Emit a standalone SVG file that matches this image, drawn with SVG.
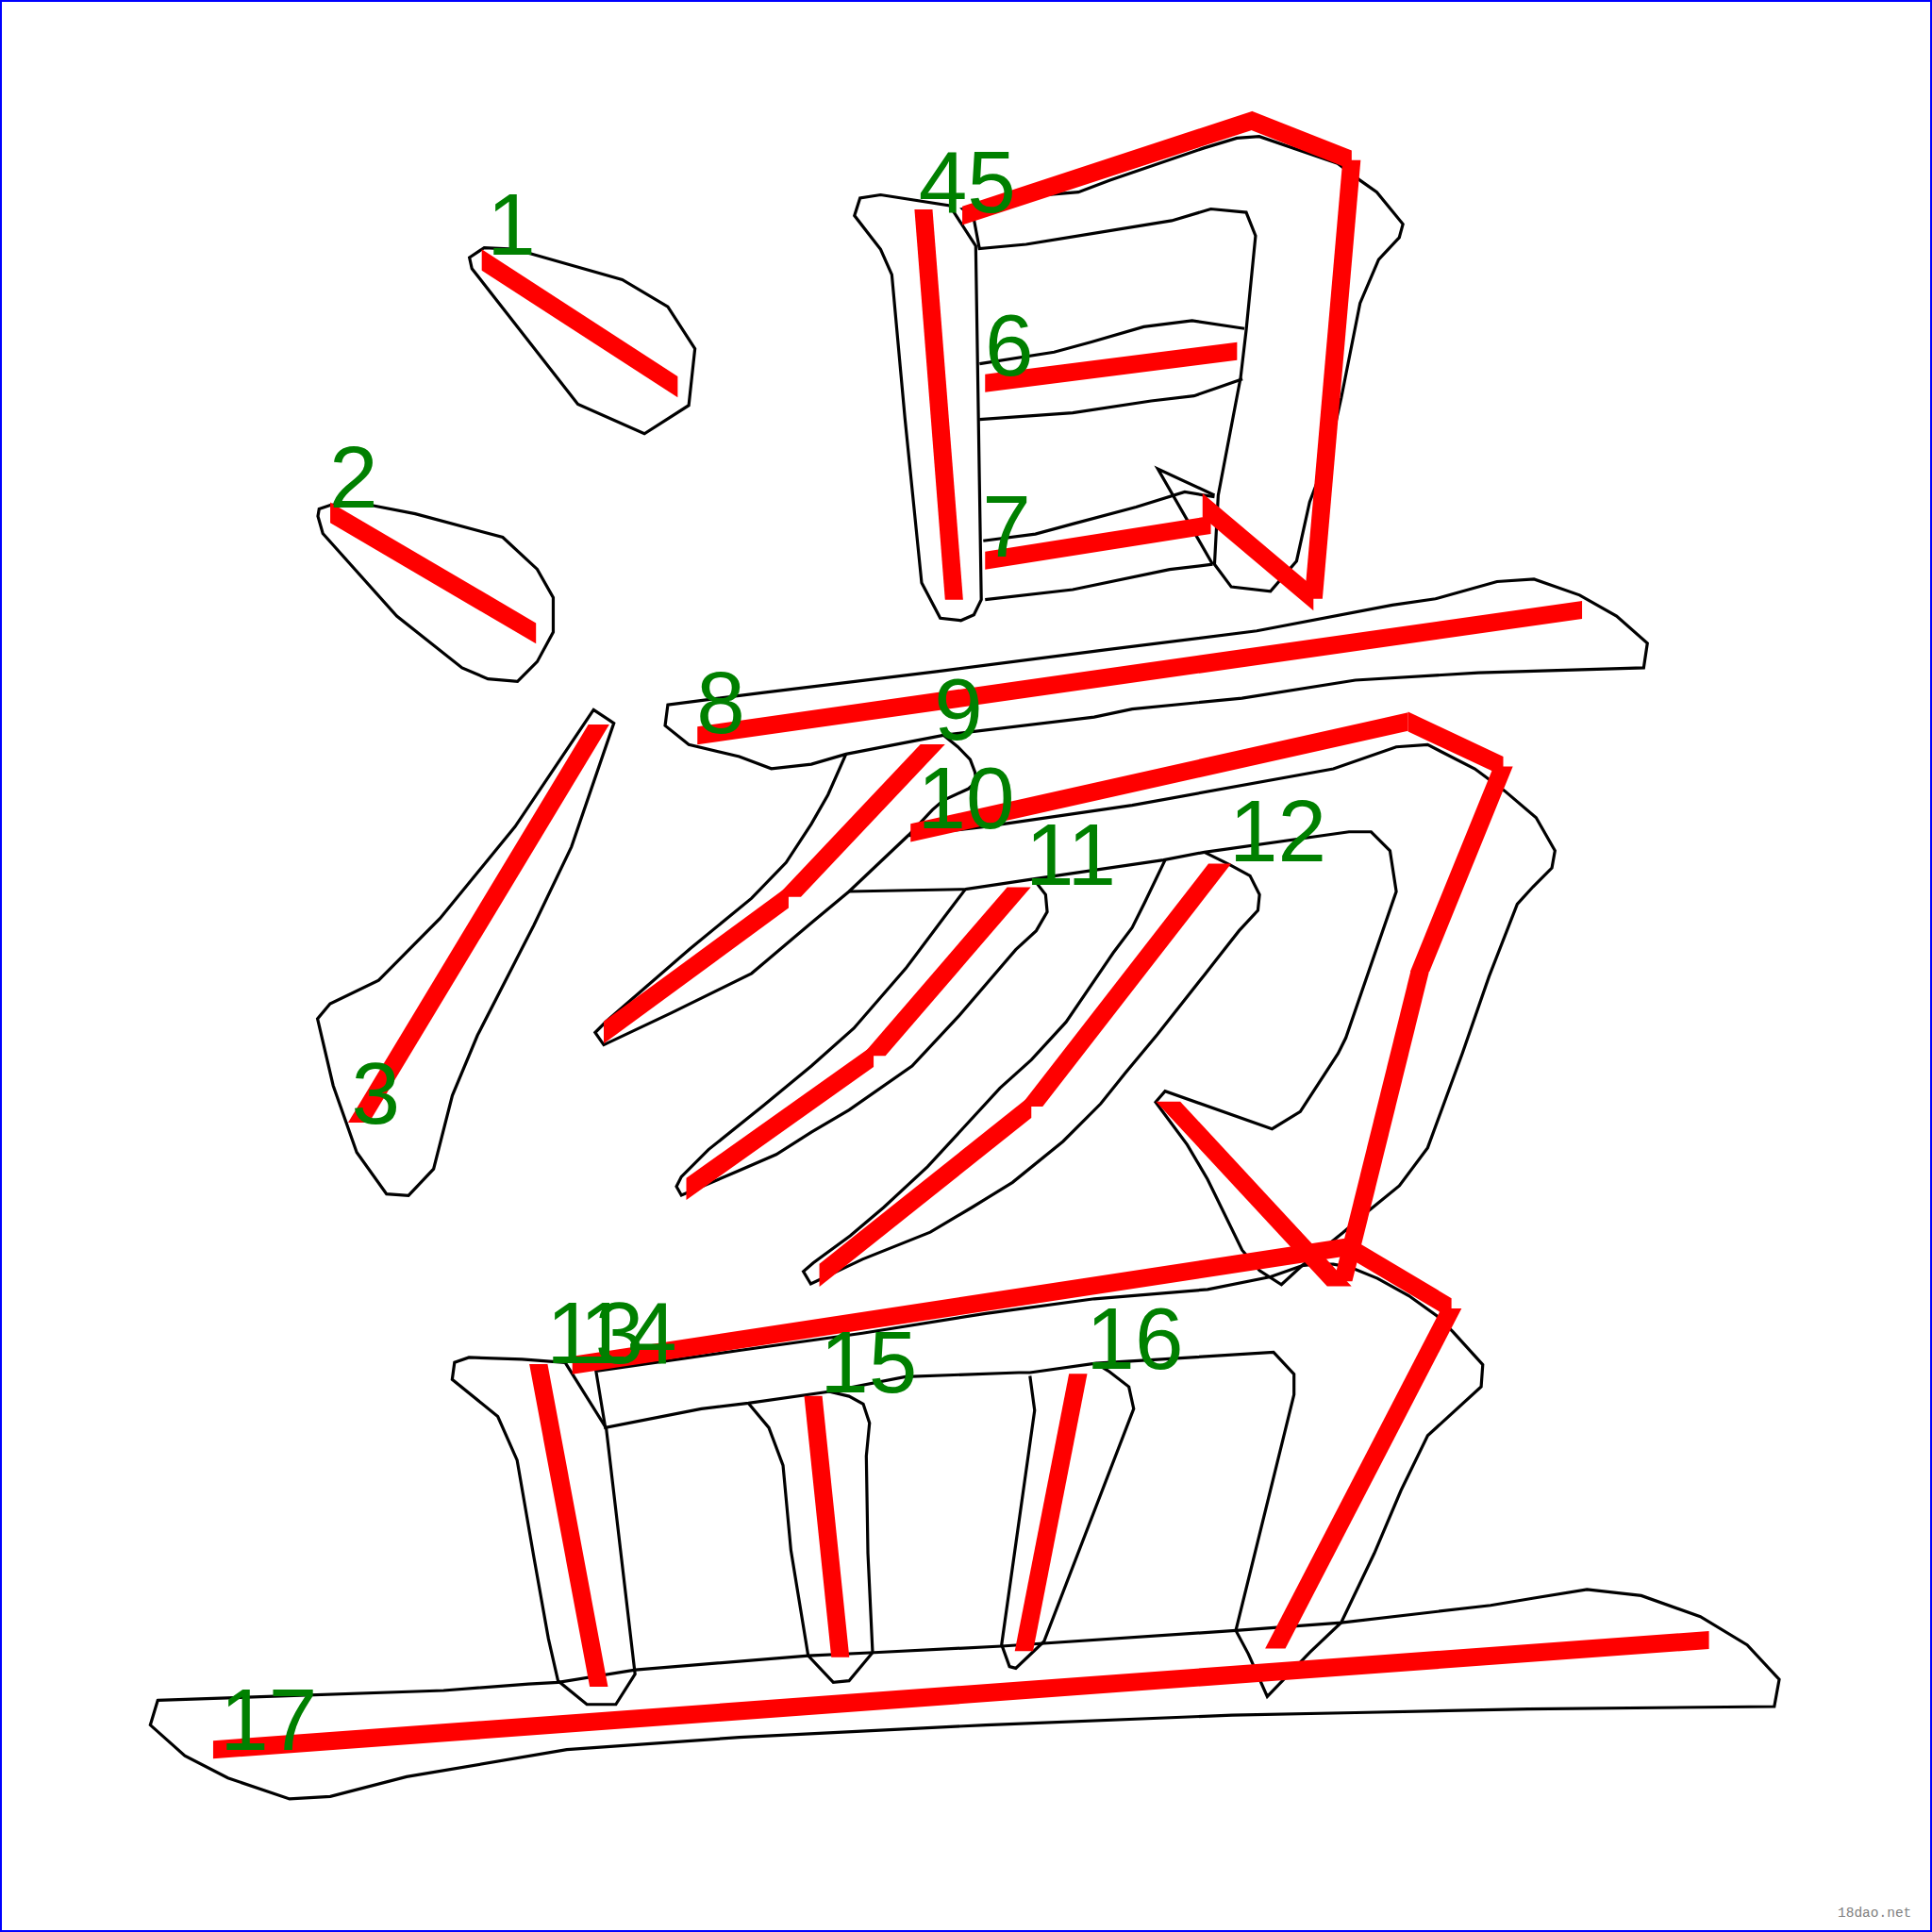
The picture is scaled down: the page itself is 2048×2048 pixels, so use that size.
<svg xmlns="http://www.w3.org/2000/svg" width="2048" height="2048" viewBox="0 0 2048 2048">
<style>
.o{fill:none;stroke:#000;stroke-width:2.45;stroke-linejoin:miter;stroke-linecap:butt}
.r{fill:#ff0000;stroke:none}
.n{fill:#008000;font-family:"Liberation Sans",Arial,sans-serif;font-size:71px;text-anchor:middle}
</style>
<rect x="1" y="1" width="2046" height="2046" fill="#ffffff" stroke="#0000ff" stroke-width="2"/>
<g transform="scale(1.306122)">
<g id="outlines">
<g id="s1-outline"><path class="o" d="M381,209 L393,201 L413,202 L431,206 L505,227 L542,249 L564,283 L559,329 L523,352 L469,328 L383,218 Z"/></g>
<g id="s2-outline"><path class="o" d="M259,413 L268,410 L283,408 L301,410 L337,417 L408,436 L436,462 L449,485 L449,513 L436,537 L420,553 L396,551 L375,542 L322,500 L262,433 L258,419 Z"/></g>
<g id="s3-outline"><path class="o" d="M481.7,576.1 L498.2,586.9 L463.8,687.2 L433.3,750.9 L418,780.7 L387.5,840.3 L367.1,889.1 L351.9,948.7 L331.5,970.4 L313.7,969 L289.5,935.2 L270.4,881 L257.7,826.8 L267.9,814.6 L307.3,795.6 L357,745.5 L418,670.9 Z"/></g>
<g id="s4-outline"><path class="o" d="M693.5,175 L698,160.8 L714.7,158.1 L770.7,166.8 L791.9,199.6 L796.4,486.7 L790.4,499 L779.8,503.6 L763.1,501.7 L748,473 L734.4,339 L723.8,222.9 L714.7,202.4 Z"/></g>
<g id="s5-outline"><path class="o" d="M781.3,169.6 L807,164.1 L843.4,158.6 L875.2,155.9 L900.9,146.3 L976.6,120.3 L1003.8,112.1 L1022,110.8 L1085.6,132.6 L1103.8,146.3 L1117.4,155.9 L1138.6,181.9 L1135.6,192.8 L1118.9,210.6 L1103.8,246.1 L1088.6,322.7 L1079.5,363.7 L1062.9,407.4 L1052.3,455.3 L1031.1,479.9 L999.3,476.3 L985.7,458 L988.7,401.9 L1006.9,306.3 L1011.4,268 L1019,191.4 L1011.4,172.3 L982.7,169.6 L950.9,179.1 L832.8,198.3 L794.9,201.8 L790.4,177.8 Z M985.7,401.9 L939.7,380.6 L984.2,458"/></g>
<g id="s6-outline"><path class="o" d="M795,295.3 L855.5,285.8 L885.8,277.6 L928.2,265.2 L967.5,260.3 L1009.9,266.6 M795,340.4 L870.6,335 L934.2,325.4 L969,321.3 L988.7,314.5 L1008.4,307.6"/></g>
<g id="s7-outline"><path class="o" d="M798,438.9 L840.3,433.4 L870.6,425.2 L922,411.5 L961.5,399.2 L985.7,403.3 M799.5,486.7 L870.6,478.5 L949.3,462.1 L984.2,458"/></g>
<g id="s8-outline"><path class="o" d="M542,572 L620,562 L760,545 L900,527 L1020,512 L1130,491 L1165,486 L1215,472 L1245,470 L1282,483 L1312,500 L1337,522 L1334,542 L1200,546 L1100,552 L1008,566.6 L918.8,575.5 L888,582 L765.7,596.7 L686.6,612 L658.5,620.2 L626,623.8 L600,614 L559,604.3 L539.8,588.9 Z"/></g>
<g id="s9-outline"><path class="o" d="M686.6,612 L672,645 L658.5,668.7 L638,700 L610,729 L560,770 L492,829 L483,838 L490,848 L545,822 L610,790 L658.5,749 L689.1,723.5 L737.6,677.6 L756.8,657.2 L765.7,649.5 L786.1,640.1 L792.5,634.2 L791.2,626.5 L787.4,616.4 L777.4,606.1 L765.7,596.7"/></g>
<g id="s10-outline"><path class="o" d="M738,678 L799,671 L918.8,653.5 L1082.1,624 L1133.2,606.2 L1158.7,604.4 L1197,624 L1221.2,641.9 L1246.7,663.6 L1262,690.4 L1259.5,704.4 L1244.2,719.7 L1231.4,733.8 L1208.5,792.5 L1186.8,855 L1158.7,931.5 L1135.7,962.3 L1107.7,985.2 L1089.8,1000.5 L1056.6,1027.3 L1040,1042.6 L1022.2,1031.2 L1008.1,1014.6 L980,957 L963.5,929 L937.9,894.5 L945.6,885.6 L1032.4,916.2 L1055.3,902.2 L1086,855 L1092.3,842.2 L1133.2,723.5 L1128.1,690.4 L1112.8,675.1 L1094.9,675.1 L977.5,691.6 L944.3,698 L839.7,713.3 L783.5,721.7 L689.1,723.5"/></g>
<g id="s11-outline"><path class="o" d="M783.5,721.7 L765.7,745.2 L735.1,786 L693,834.5 L658.5,865.2 L620,897 L575,933 L553,955 L549,963 L553,970 L600,950 L630,937 L658.5,918.8 L689.1,900.9 L740.2,865.2 L778.4,824.3 L824.4,770.7 L841,755.4 L849.9,740.1 L848.6,726.1 L839.7,714.6"/></g>
<g id="s12-outline"><path class="o" d="M945.6,698 L929,732.5 L918.8,752.9 L903.5,773.3 L865.2,829.5 L837.1,860.1 L811.6,883.1 L783.5,913.6 L752.9,946.8 L717.1,980 L690,1003 L660,1025 L652,1032 L658,1042 L700,1022 L755,1000 L788.7,980 L821.8,959.6 L862.7,926.4 L893.3,895.8 L913.7,870.3 L939.2,839.7 L977.5,791.2 L1005.6,755.4 L1020.9,738.9 L1022.2,726.1 L1014.5,710.8 L998,701.8 L977.5,691.6"/></g>
<g id="s13-outline"><path class="o" d="M458.7,1105.8 L423.6,1103.1 L380.6,1101.7 L368.9,1105.8 L367,1119.5 L404,1149.6 L419.7,1185.1 L433.4,1264.4 L445.1,1330 L452.9,1364.2 L476.3,1383.3 L499.8,1383.3 L515.4,1358.7 L492,1159.1 Z"/></g>
<g id="s14-outline"><path class="o" d="M483.7,1112.7 L491.3,1158.7 L569.2,1143.4 L607.4,1138.8 L673.8,1129.3 L735,1117.3 L826.9,1114 L835.9,1114 L889.4,1106.4 L1033.6,1097.5 L1050.2,1115.3 L1050.2,1131.9 L1003,1323.3 L1013.2,1342.4 L1028.5,1376.9 L1063,1341.1 L1088.5,1316.9 L1115.3,1260.8 L1137,1209.7 L1158.7,1165.1 L1202.1,1125.5 L1203.4,1107.6 L1179.1,1080.8 L1166.3,1068.1 L1143.4,1051.6 L1117.9,1037.5 L1096.2,1028.6 L1082.1,1026.1 L1066.8,1026.1 L1056.6,1027.3 L1031.1,1036.3 L980.1,1046.5 L888.2,1054.1 L800,1066 L700,1082 L600,1096 Z"/></g>
<g id="s15-outline"><path class="o" d="M607.4,1138.8 L624,1158.7 L635.5,1189.3 L641.9,1258.2 L655.9,1343.7 L676.3,1365.4 L689.1,1364.1 L708.2,1341.2 L704.4,1260.8 L703.1,1181.7 L705.7,1154.9 L700.6,1139.5 L689.1,1133.2 L672.5,1129.3"/></g>
<g id="s16-outline"><path class="o" d="M835.9,1116.6 L839.7,1144.6 L812.9,1334.8 L819.3,1352.6 L824.4,1353.9 L847.3,1332.2 L920.1,1143.4 L916.2,1125.5 L899.6,1112.7 L889.4,1106.4"/></g>
<g id="s17-outline"><path class="o" d="M128,1380 L360,1372 L428.8,1366.7 L453,1365.4 L515.6,1355.2 L655.9,1343.7 L709.5,1341.2 L812.9,1336 L1003,1323.3 L1088.5,1316.9 L1209.7,1302.9 L1245,1297 L1288,1290 L1332,1295 L1380,1312 L1418,1335 L1444,1363 L1440,1385 L1240,1387 L1100,1390 L1000,1392 L800,1400 L600,1410 L460,1420 L330,1442 L268,1458 L235,1460 L185,1443 L150,1425 L122,1400 Z"/></g>
</g>
<g id="strokes">
<g id="s1-path"><polygon class="r" points="391,202.4 550,305.4 550,322.6 391,219.6"/></g>
<g id="s2-path"><polygon class="r" points="268,407.6 435,505.6 435,522.4 268,424.4"/></g>
<g id="s3-path"><polygon class="r" points="477.5,588 494.5,588 299.5,911 282.5,911"/></g>
<g id="s4-path"><polygon class="r" points="742.2,170 756.8,170 781.6,486.7 767,486.7"/></g>
<g id="s5-path">
<polygon class="r" points="781,167.4 1016,90.4 1016,105.6 781,182.6"/>
<polygon class="r" points="1016,90.2 1097,122.2 1097,137.8 1016,105.8"/>
<polygon class="r" points="1089.7,130 1104.3,130 1073.3,486 1058.7,486"/>
<polygon class="r" points="1066,476.5 976,400.5 976,419.5 1066,495.5"/>
</g>
<g id="s6-path"><polygon class="r" points="799.5,303.7 1004,277.7 1004,292.3 799.5,318.3"/></g>
<g id="s7-path"><polygon class="r" points="799.5,447.7 982.7,418.7 982.7,433.3 799.5,462.3"/></g>
<g id="s8-path"><polygon class="r" points="566,589.7 1284,487.7 1284,502.3 566,604.3"/></g>
<g id="s9-path">
<polygon class="r" points="747,604 767,604 650,728 630,728"/>
<polygon class="r" points="640,719 490,829 490,847 640,737"/>
</g>
<g id="s10-path">
<polygon class="r" points="739,668.6 1142.8,578.3 1142.8,593.1 739,683.4"/>
<polygon class="r" points="1142.8,577.7 1220,614 1220,630 1142.8,593.7"/>
<polygon class="r" points="1212.2,622 1227.8,622 1160.1,788.6 1144.5,788.6"/>
<polygon class="r" points="1144.8,788.6 1159.8,788.6 1097.5,1040 1082.5,1040"/>
<polygon class="r" points="1077.1,1044 1096.9,1044 957.9,894 938.1,894"/>
</g>
<g id="s11-path">
<polygon class="r" points="817.4,720 836.6,720 718.6,857 699.4,857"/>
<polygon class="r" points="709,848.1 557,956.1 557,973.9 709,865.9"/>
</g>
<g id="s12-path">
<polygon class="r" points="980.8,701 999.2,701 846.2,898 827.8,898"/>
<polygon class="r" points="837,888.7 665,1025.7 665,1044.3 837,907.3"/>
</g>
<g id="s13-path"><polygon class="r" points="429.6,1107 444.4,1107 493.4,1369 478.6,1369"/></g>
<g id="s14-path">
<polygon class="r" points="464.5,1100.7 1094,1004.7 1094,1019.3 464.5,1115.3"/>
<polygon class="r" points="1094,1003.6 1178,1053.6 1178,1070.4 1094,1020.4"/>
<polygon class="r" points="1169.8,1062 1186.2,1062 1043.2,1338 1026.8,1338"/>
</g>
<g id="s15-path"><polygon class="r" points="652.7,1133 667.3,1133 689.3,1345 674.7,1345"/></g>
<g id="s16-path"><polygon class="r" points="867.6,1115 882.4,1115 838.4,1340 823.6,1340"/></g>
<g id="s17-path"><polygon class="r" points="173,1412.7 1387,1323.7 1387,1338.3 173,1427.3"/></g>
</g>
<g id="labels">
<text class="n" x="415" y="207">1</text>
<text class="n" x="287" y="412">2</text>
<text class="n" x="305" y="912">3</text>
<text class="n" x="785" y="172">45</text>
<text class="n" x="819" y="305">6</text>
<text class="n" x="817" y="452">7</text>
<text class="n" x="585" y="595">8</text>
<text class="n" x="778" y="600">9</text>
<text class="n" x="784" y="672">10</text>
<text class="n" x="869" y="718">11</text>
<text class="n" x="1037" y="699">12</text>
<text class="n" x="483" y="1106">13</text>
<text class="n" x="510" y="1106">14</text>
<text class="n" x="705" y="1130">15</text>
<text class="n" x="921" y="1111">16</text>
<text class="n" x="218" y="1420">17</text>
</g>
</g>
<text x="1948" y="2032" font-family="Liberation Mono, monospace" font-size="14.5" fill="#808080">18dao.net</text>
</svg>
